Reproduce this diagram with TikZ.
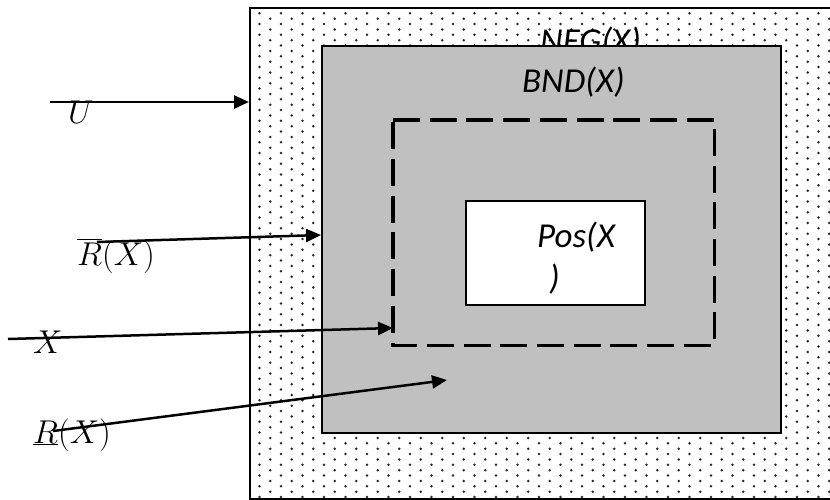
\RequirePackage{fix-cm}
\documentclass[tikz,border=0pt]{standalone}
\usepackage{fontspec}
\newfontfamily\carlito{Carlito}
\usetikzlibrary{arrows.meta}
\definecolor{bndgray}{HTML}{C0C0C0}
\begin{document}
\begin{tikzpicture}[x=1pt,y=-1pt,
  box/.style={draw=black, line width=2pt, inner sep=0pt, anchor=north west},
  lab/.style={inner sep=0pt, anchor=base west, font=\fontsize{35}{42}\selectfont\carlito\itshape},
  mlab/.style={inner sep=0pt, anchor=base west, font=\fontsize{33}{40}\selectfont},
  arr/.style={line width=2.5pt, -{Triangle[length=15pt,width=13pt]}},
  dotc/.style={fill=black!85}
]
\useasboundingbox (0,0) rectangle (830,499);
\fill[white] (0,0) rectangle (830,499);
\begin{scope}
\clip (0,0) rectangle (830,499);
\node[box, minimum width=620pt, minimum height=490.5pt] (U) at (249,7) {};
\begin{scope}
\clip (250,8) rectangle (830,497);
\foreach \i in {1,...,54}{
  \pgfmathsetmacro\yy{13.3+5.4*(1-mod(\i,2))}
  \foreach \j in {0,...,45}{
    \fill[dotc] ({248.75+10.75*\i},{\yy+10.75*\j}) circle (1.35pt);
  }
}
\end{scope}
\end{scope}
\node[lab] (neg) at (540,52) {NEG(X)};
\node[box, fill=bndgray, minimum width=459pt, minimum height=387pt] (bnd) at (321,45) {};
\node[lab] (bndl) at (522,92) {BND(X)};
\node[inner sep=0pt, minimum width=321pt, minimum height=225pt, anchor=north west] (xbox) at (393,120) {};
\draw[line width=3.5pt, dash pattern=on 27pt off 9.7pt] (xbox.north west) -- (xbox.north east) -- (xbox.south east) -- (xbox.south west) -- cycle;
\node[box, line width=1.5pt, fill=white, minimum width=179pt, minimum height=104pt] (pos) at (465,200) {};
\node[lab, align=left] (posl) at (537,289) {Pos(X\\\hspace*{12pt})};
% labels
\node[mlab] (ul) at (68,123) {$U$};
\node[mlab] (rul) at (77,265) {$\overline{R\vphantom{\big(}}(X)$};
\node[mlab] (xl) at (33,353) {$X$};
\node[mlab] (rll) at (33,443) {$\underline{R}(X)$};
% arrow ends
\coordinate (us) at (50,102);
\coordinate (ue) at (U.west |- us);
\coordinate (rus) at (97,242);
\coordinate (rue) at (bnd.west |- 0,235);
\coordinate (xs) at (8,339);
\coordinate (xe) at (xbox.west |- 0,328);
\coordinate (rls) at (53,431);
\coordinate (rle) at (447,380);
\draw[arr] (us) -- (ue);
\draw[arr] (rus) -- (rue);
\draw[arr] (xs) -- (xe);
\draw[arr] (rls) -- (rle);
\end{tikzpicture}
\end{document}
